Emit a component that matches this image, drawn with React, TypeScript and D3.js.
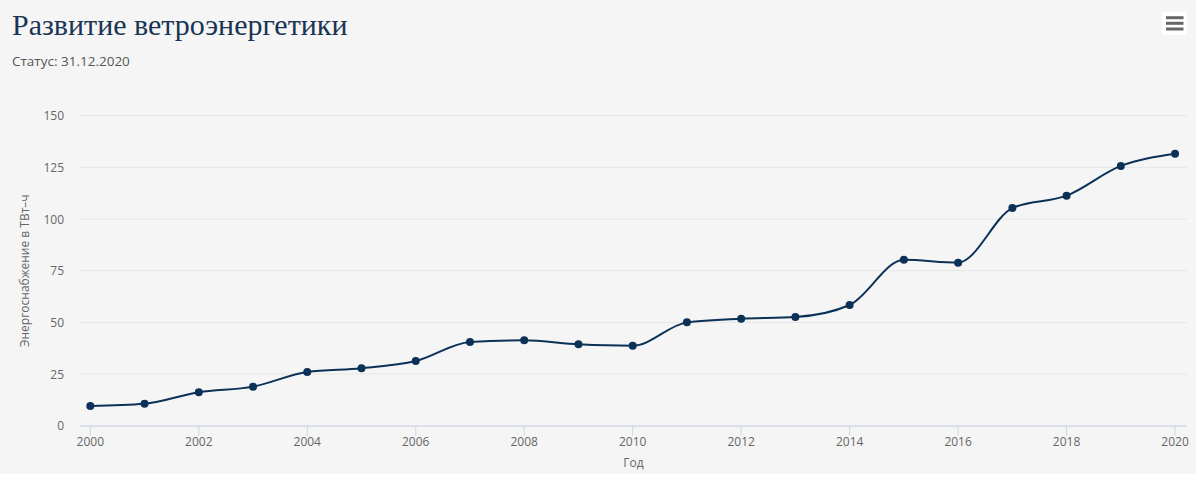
import React from "react";
import * as d3 from "d3";

const years = [2000, 2001, 2002, 2003, 2004, 2005, 2006, 2007, 2008, 2009, 2010, 2011, 2012, 2013, 2014, 2015, 2016, 2017, 2018, 2019, 2020];
const supply = [9.5, 10.6, 16.2, 18.9, 26.0, 27.8, 31.3, 40.5, 41.3, 39.4, 38.7, 50.0, 51.8, 52.6, 58.4, 80.3, 78.9, 105.3, 111.3, 125.7, 131.6];
const xTicks = [2000, 2002, 2004, 2006, 2008, 2010, 2012, 2014, 2016, 2018, 2020];
const yTicks = [0, 25, 50, 75, 100, 125, 150];

const title = "Развитие ветроэнергетики";
const subtitle = "Статус: 31.12.2020";
const yTitle = "Энергоснабжение в ТВт–ч";
const xTitle = "Год";

const W = 1199;
const H = 488;
const plotLeft = 80;
const plotRight = 1187;
const plotTop = 115.7;
const plotBottom = 425.7;

const font = "'Open Sans', sans-serif";
const lineColor = "#0b3157";

export default function App() {
  const x = d3.scaleLinear().domain([1999.81, 2020.22]).range([plotLeft, plotRight]);
  const y = d3.scaleLinear().domain([0, 150]).range([plotBottom, plotTop]);
  const line = d3
    .line<number>()
    .x((_, i) => x(years[i]))
    .y((d) => y(d))
    .curve(d3.curveMonotoneX);

  return (
    <svg
      width={W}
      height={H}
      style={{ position: "absolute", left: 0, top: 0, fontFamily: font }}
    >
      <rect x={0} y={0} width={1196} height={474} fill="#f5f5f5" />
      <text x={12} y={35} fontFamily="'Liberation Serif', serif" fontSize={30} fill="#1a3553">
        {title}
      </text>
      <text x={12} y={65.5} fontSize={13.5} fill="#555555">
        {subtitle}
      </text>

      {/* menu button */}
      <rect x={1162} y={12} width={25} height={23} rx={2} fill="#ffffff" />
      {[17.7, 23.3, 29].map((ly) => (
        <line key={ly} x1={1166} x2={1183.5} y1={ly} y2={ly} stroke="#666666" strokeWidth={3} />
      ))}

      {/* grid */}
      {yTicks.map((t) => (
        <line key={t} x1={plotLeft} x2={plotRight} y1={y(t)} y2={y(t)} stroke="#e6e6e6" strokeWidth={1} />
      ))}
      {yTicks.map((t) => (
        <text key={"yl" + t} x={64} y={y(t) + 4.5} textAnchor="end" fontSize={12} fill="#666666">
          {t}
        </text>
      ))}

      {/* x axis */}
      <line x1={plotLeft} x2={plotRight} y1={plotBottom + 0.5} y2={plotBottom + 0.5} stroke="#ccd6eb" strokeWidth={1} />
      {xTicks.map((t) => (
        <g key={"xt" + t}>
          <line x1={x(t)} x2={x(t)} y1={plotBottom} y2={plotBottom + 10} stroke="#ccd6eb" strokeWidth={1} />
          <text x={x(t)} y={446} textAnchor="middle" fontSize={12} fill="#666666">
            {t}
          </text>
        </g>
      ))}

      <text x={(plotLeft + plotRight) / 2} y={467} textAnchor="middle" fontSize={12} fill="#666666">
        {xTitle}
      </text>
      <text
        transform={`translate(29, ${(plotTop + plotBottom) / 2}) rotate(-90)`}
        textAnchor="middle"
        fontSize={12}
        fill="#666666"
      >
        {yTitle}
      </text>

      {/* series */}
      <path d={line(supply) ?? ""} fill="none" stroke={lineColor} strokeWidth={2} />
      {supply.map((v, i) => (
        <circle key={"p" + i} cx={x(years[i])} cy={y(v)} r={4} fill={lineColor} />
      ))}
    </svg>
  );
}
